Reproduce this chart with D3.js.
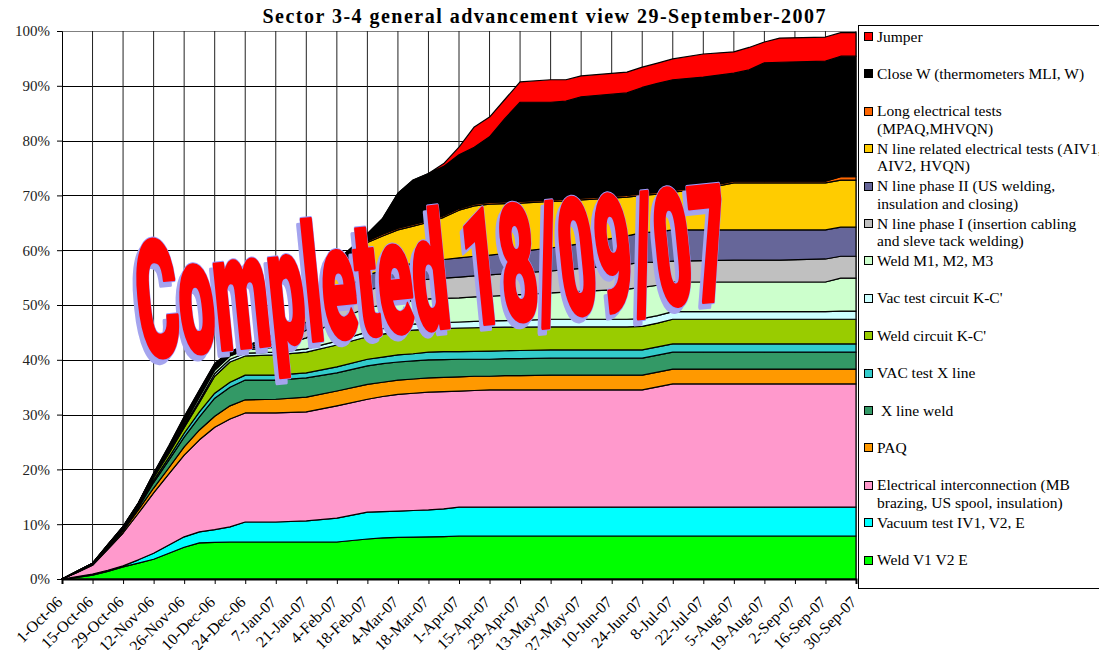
<!DOCTYPE html>
<html>
<head>
<meta charset="utf-8">
<script src="https://cdn.jsdelivr.net/npm/d3@7"></script>
<style>
  body { margin: 0; background: #fff; }
  svg { display: block; font-family: "Liberation Serif", "DejaVu Serif", serif; }
</style>
</head>
<body>
<svg id="chart" width="1099" height="650"></svg>
<script>
// weekly-ish sample dates
var dates = ["1-Oct-06","8-Oct-06","15-Oct-06","22-Oct-06","29-Oct-06","5-Nov-06","12-Nov-06","19-Nov-06",
  "26-Nov-06","3-Dec-06","10-Dec-06","17-Dec-06","24-Dec-06","7-Jan-07","21-Jan-07","4-Feb-07","18-Feb-07",
  "25-Feb-07","4-Mar-07","11-Mar-07","18-Mar-07","25-Mar-07","1-Apr-07","8-Apr-07","15-Apr-07","22-Apr-07",
  "29-Apr-07","13-May-07","20-May-07","27-May-07","17-Jun-07","24-Jun-07","1-Jul-07","8-Jul-07","22-Jul-07",
  "5-Aug-07","12-Aug-07","19-Aug-07","26-Aug-07","16-Sep-07","23-Sep-07","30-Sep-07"];

var tickLabels = ["1-Oct-06","15-Oct-06","29-Oct-06","12-Nov-06","26-Nov-06","10-Dec-06","24-Dec-06","7-Jan-07",
  "21-Jan-07","4-Feb-07","18-Feb-07","4-Mar-07","18-Mar-07","1-Apr-07","15-Apr-07","29-Apr-07","13-May-07",
  "27-May-07","10-Jun-07","24-Jun-07","8-Jul-07","22-Jul-07","5-Aug-07","19-Aug-07","2-Sep-07","16-Sep-07","30-Sep-07"];

var yTicks = [0, 10, 20, 30, 40, 50, 60, 70, 80, 90, 100];

// series, bottom of the stack first (values in % of sector)
var weldV1V2E = [0,0.3,0.7,1.4,2.2,2.9,3.6,4.7,5.8,6.6,6.7,6.75,6.75,6.75,6.75,6.75,7.3,7.5,7.6,7.65,7.7,7.75,
  7.85,7.85,7.85,7.85,7.85,7.85,7.85,7.85,7.85,7.85,7.85,7.85,7.85,7.85,7.85,7.85,7.85,7.85,7.85,7.85];
var vacuumTest = [0,0.15,0.2,0.2,0.2,0.6,1.1,1.5,1.9,2.0,2.3,2.75,3.65,3.65,3.85,4.35,4.9,4.8,4.8,4.85,4.9,5.05,
  5.25,5.25,5.25,5.25,5.25,5.25,5.25,5.25,5.25,5.25,5.25,5.25,5.25,5.25,5.25,5.25,5.25,5.25,5.25,5.25];
var elecInterconnection = [0,0.75,1.6,3.8,6.0,8.5,11.0,13.0,14.9,16.8,18.7,19.7,19.9,19.9,19.9,20.5,20.6,21.0,21.3,
  21.4,21.5,21.4,21.2,21.3,21.4,21.4,21.4,21.4,21.4,21.4,21.4,21.4,21.95,22.5,22.5,22.5,22.5,22.5,22.5,22.5,22.5,22.5];
var paq = [0,0.05,0.1,0.3,0.4,0.6,0.9,1.1,1.5,1.8,2.0,2.4,2.4,2.5,2.7,2.7,2.7,2.6,2.6,2.6,2.6,2.6,2.6,2.6,2.5,2.6,
  2.6,2.7,2.7,2.7,2.7,2.7,2.7,2.7,2.7,2.7,2.7,2.7,2.7,2.7,2.7,2.7];
var xLineWeld = [0,0.05,0.1,0.2,0.3,0.4,1.0,1.4,1.8,2.4,3.3,3.4,3.6,3.5,3.5,3.3,3.4,3.4,3.3,3.3,3.3,3.25,3.2,3.1,
  3.1,3.1,3.1,3.1,3.1,3.1,3.1,3.1,3.1,3.1,3.1,3.1,3.1,3.1,3.1,3.1,3.1,3.1];
var vacTestX = [0,0.03,0.03,0.07,0.1,0.2,0.4,0.5,0.7,0.9,0.9,0.9,0.9,0.9,0.9,1.1,1.2,1.2,1.3,1.3,1.4,1.45,1.4,1.45,
  1.5,1.45,1.5,1.5,1.5,1.5,1.5,1.5,1.5,1.5,1.5,1.5,1.5,1.5,1.5,1.5,1.5,1.5];
var weldKC = [0,0.04,0.04,0.08,0.1,0.2,0.5,0.7,1.0,1.7,3.1,3.7,3.5,3.7,3.8,4.0,4.1,4.2,4.2,4.3,4.2,4.2,4.3,4.3,4.3,
  4.3,4.25,4.2,4.2,4.2,4.2,4.3,4.35,4.5,4.5,4.5,4.5,4.5,4.5,4.5,4.5,4.5];
var vacTestKC = [0,0.02,0.02,0.05,0.05,0.1,0.2,0.2,0.3,0.4,0.5,0.5,0.5,0.5,0.6,0.7,0.9,1.0,1.1,1.1,1.1,1.1,1.1,1.15,
  1.2,1.2,1.25,1.4,1.4,1.4,1.4,1.4,1.35,1.4,1.4,1.4,1.4,1.4,1.4,1.4,1.5,1.5];
var weldM = [0,0.02,0.03,0.05,0.05,0.1,0.2,0.3,0.4,0.6,0.6,0.6,0.6,0.9,2.0,3.9,4.4,4.3,4.3,4.3,4.4,4.4,4.4,4.5,4.5,
  4.6,4.7,4.8,4.95,5.1,5.5,5.7,5.55,5.4,5.4,5.4,5.4,5.4,5.4,5.4,6.0,6.0];
var nLinePhase1 = [0,0.01,0.02,0.05,0.05,0.1,0.1,0.2,0.3,0.4,0.3,0.2,0.2,0.6,1.4,2.7,3.2,3.4,3.5,3.6,3.6,3.7,3.8,3.8,
  3.9,3.95,3.95,4.0,4.1,4.2,4.5,4.6,4.2,3.8,3.9,4.0,4.0,4.0,4.0,4.2,4.0,4.0];
var nLinePhase2 = [0,0.01,0.02,0.04,0.05,0.05,0.1,0.2,0.3,0.3,0.2,0.2,0.2,0.7,1.5,2.2,2.8,2.9,3.1,3.2,3.3,3.4,3.5,3.6,
  3.6,3.7,3.95,4.2,4.35,4.5,5.2,5.4,5.55,5.7,5.6,5.5,5.5,5.5,5.5,5.3,5.3,5.3];
var nLineElecTests = [0,0.01,0.02,0.04,0.05,0.05,0.1,0.2,0.3,0.3,0.3,0.3,0.15,0.7,2.2,4.6,5.9,6.3,6.6,6.8,7.1,7.7,8.7,
  9.2,9.3,9.1,8.8,8.5,8.2,8.0,7.1,6.8,6.9,6.9,7.5,8.6,8.6,8.6,8.6,8.6,8.6,8.6];
var longElecTests = [0,0,0,0,0,0,0,0,0,0,0,0,0,0.1,0.3,0.3,0.3,0.3,0.3,0.3,0.3,0.3,0.3,0.3,0.3,0.3,0.3,0.3,0.3,0.3,
  0.3,0.3,0.3,0.3,0.3,0.3,0.3,0.3,0.3,0.3,0.6,0.6];
var closeW = [0,0,0,0,0.05,0.1,0.1,0.3,0.4,0.3,0.4,0.2,0.1,0.3,0.6,1.0,1.3,2.9,6.4,8.1,8.6,9.0,9.8,10.4,12.0,15.2,
  18.1,17.8,17.9,18.5,18.7,19.4,19.9,20.2,20.1,19.7,20.3,21.6,21.7,21.9,22.0,22.0];
var jumper = [0,0,0,0,0,0,0,0,0,0,0,0,0,0,0,0,0,0,0,0,0,0.5,1.4,3.7,3.6,3.5,3.7,4.1,3.9,3.8,3.8,3.7,3.7,3.8,4.2,
  3.9,4.1,3.8,4.4,4.4,4.3,4.3];

var seriesKeys = ["weld", "vacuum", "elec", "paq", "xweld", "vacx", "weldkc", "vackc", "weldm",
  "nline1", "nline2", "nelec", "longelec", "closew", "jumper"];
var seriesValues = [weldV1V2E, vacuumTest, elecInterconnection, paq, xLineWeld, vacTestX, weldKC, vacTestKC,
  weldM, nLinePhase1, nLinePhase2, nLineElecTests, longElecTests, closeW, jumper];
var seriesColors = ["#00ff00", "#00ffff", "#ff99cc", "#ff9900", "#339966", "#33cccc", "#99cc00", "#ccffff",
  "#ccffcc", "#c0c0c0", "#666699", "#ffcc00", "#ff6600", "#000000", "#ff0000"];
// legend text, same order as the series (wrapped as in the picture)
var seriesLabels = [["Weld V1 V2 E"], ["Vacuum test IV1, V2, E"],
  ["Electrical interconnection (MB", "brazing, US spool, insulation)"], ["PAQ"], ["\u00a0X line weld"],
  ["VAC test X line"], ["Weld circuit K-C'"], ["Vac test circuit K-C'"], ["Weld M1, M2, M3"],
  ["N line phase I (insertion cabling", "and sleve tack welding)"], ["N line phase II (US welding,", "insulation and closing)"],
  ["N line related electrical tests (AIV1,", "AIV2, HVQN)"], ["Long electrical tests", "(MPAQ,MHVQN)"],
  ["Close W (thermometers MLI, W)"], ["Jumper"]];

var titleText = "Sector 3-4 general advancement view 29-September-2007";
var stampText = "Completed 18/09/07";

var parse = d3.utcParse("%d-%b-%y");
var svg = d3.select('#chart');

var rows = dates.map(function(d, i) {
    var r = {date: parse(d)};
    seriesKeys.forEach(function(k, j) { r[k] = seriesValues[j][i]; });
    return r;
});

var x = d3.scaleUtc()
          .domain([parse(tickLabels[0]), parse(tickLabels[tickLabels.length - 1])])
          .range([62, 856]);
var y = d3.scaleLinear().domain([0, 100]).range([579, 31]);

// grid
svg.append('g').selectAll('line')
    .data(yTicks.slice(1))
    .enter().append('line')
    .attr('x1', 62).attr('x2', 856)
    .attr('y1', function(d) { return Math.round(y(d)) + 0.5; })
    .attr('y2', function(d) { return Math.round(y(d)) + 0.5; })
    .attr('stroke', function(d) { return d === 100 ? '#808080' : '#000'; });

svg.append('g').selectAll('line')
    .data(tickLabels.slice(1))
    .enter().append('line')
    .attr('x1', function(d) { return x(parse(d)); })
    .attr('x2', function(d) { return x(parse(d)); })
    .attr('y1', 31).attr('y2', 579)
    .attr('stroke', '#222').attr('stroke-width', 1);

// stacked areas
var stacked = d3.stack().keys(seriesKeys)(rows);
var area = d3.area()
    .x(function(d) { return x(d.data.date); })
    .y0(function(d) { return y(d[0]); })
    .y1(function(d) { return y(d[1]); });

svg.append('g').selectAll('path')
    .data(stacked)
    .enter().append('path')
    .attr('d', area)
    .attr('fill', function(d, i) { return seriesColors[i]; })
    .attr('stroke', '#000')
    .attr('stroke-width', 1.2)
    .attr('stroke-linejoin', 'round');

// axes
var yAxis = d3.axisLeft(y).tickValues(yTicks).tickSize(5).tickPadding(7)
    .tickFormat(function(d) { return d + '%'; });
var gy = svg.append('g').attr('transform', 'translate(62,0)').call(yAxis);
gy.selectAll('text').style('font-size', '15px').style('font-family', '"Liberation Serif", serif').attr('fill', '#222');
gy.selectAll('line, path').attr('stroke', '#000');

var xAxis = d3.axisBottom(x).tickValues(tickLabels.map(parse)).tickSize(5)
    .tickFormat(function(d, i) { return tickLabels[i]; });
var gx = svg.append('g').attr('transform', 'translate(0,579)').call(xAxis);
gx.select('.domain').attr('stroke-width', 2);
gx.selectAll('line, path').attr('stroke', '#000');
gx.selectAll('text')
    .style('font-size', '16px').style('font-family', '"Liberation Serif", serif')
    .attr('fill', '#000')
    .attr('text-anchor', 'end')
    .attr('y', 0).attr('dy', 0)
    .attr('transform', 'translate(1,24) rotate(-45)');

// title
svg.append('text')
    .attr('x', 544).attr('y', 23)
    .attr('text-anchor', 'middle')
    .attr('textLength', 563)
    .style('font-weight', 'bold').style('font-size', '20px')
    .text(titleText);

// legend
var legend = svg.append('g');
legend.append('rect')
    .attr('x', 858.5).attr('y', 25.5).attr('width', 260).attr('height', 563)
    .attr('fill', '#fff').attr('stroke', '#000');
var items = seriesKeys.map(function(k, i) { return i; }).reverse();
items.forEach(function(si, row) {
    var cy = 36.5 + row * 37.4;
    legend.append('rect')
        .attr('x', 864.5).attr('y', Math.round(cy - 4.5) + 0.5).attr('width', 8).attr('height', 8)
        .attr('fill', seriesColors[si]).attr('stroke', '#000');
    seriesLabels[si].forEach(function(line, li) {
        legend.append('text')
            .attr('x', 877).attr('y', cy + 5 + li * 17.5)
            .style('font-size', '15.5px')
            .text(line);
    });
});

// "Completed" stamp over the chart: shadow, lilac outline, red face
var stamp = svg.append('g').attr('transform', 'translate(142,358) rotate(-5.7)');
function stampLayer(dx, dy, fill, stroke, sw) {
    stamp.append('text')
        .attr('x', dx).attr('y', dy)
        .attr('textLength', 594).attr('lengthAdjust', 'spacingAndGlyphs')
        .style('font-family', 'Roboto, "Liberation Sans", sans-serif')
        .style('font-weight', 900).style('font-size', '162px')
        .attr('fill', fill).attr('stroke', stroke).attr('stroke-width', sw)
        .attr('stroke-linejoin', 'round')
        .text(stampText);
}
stampLayer(-4, 5, '#a4a4ee', '#a4a4ee', 5);
stampLayer(0, 0, '#9a9aff', '#9a9aff', 6);
stampLayer(0, 0, '#ff0000', '#ff0000', 4);
</script>
</body>
</html>
